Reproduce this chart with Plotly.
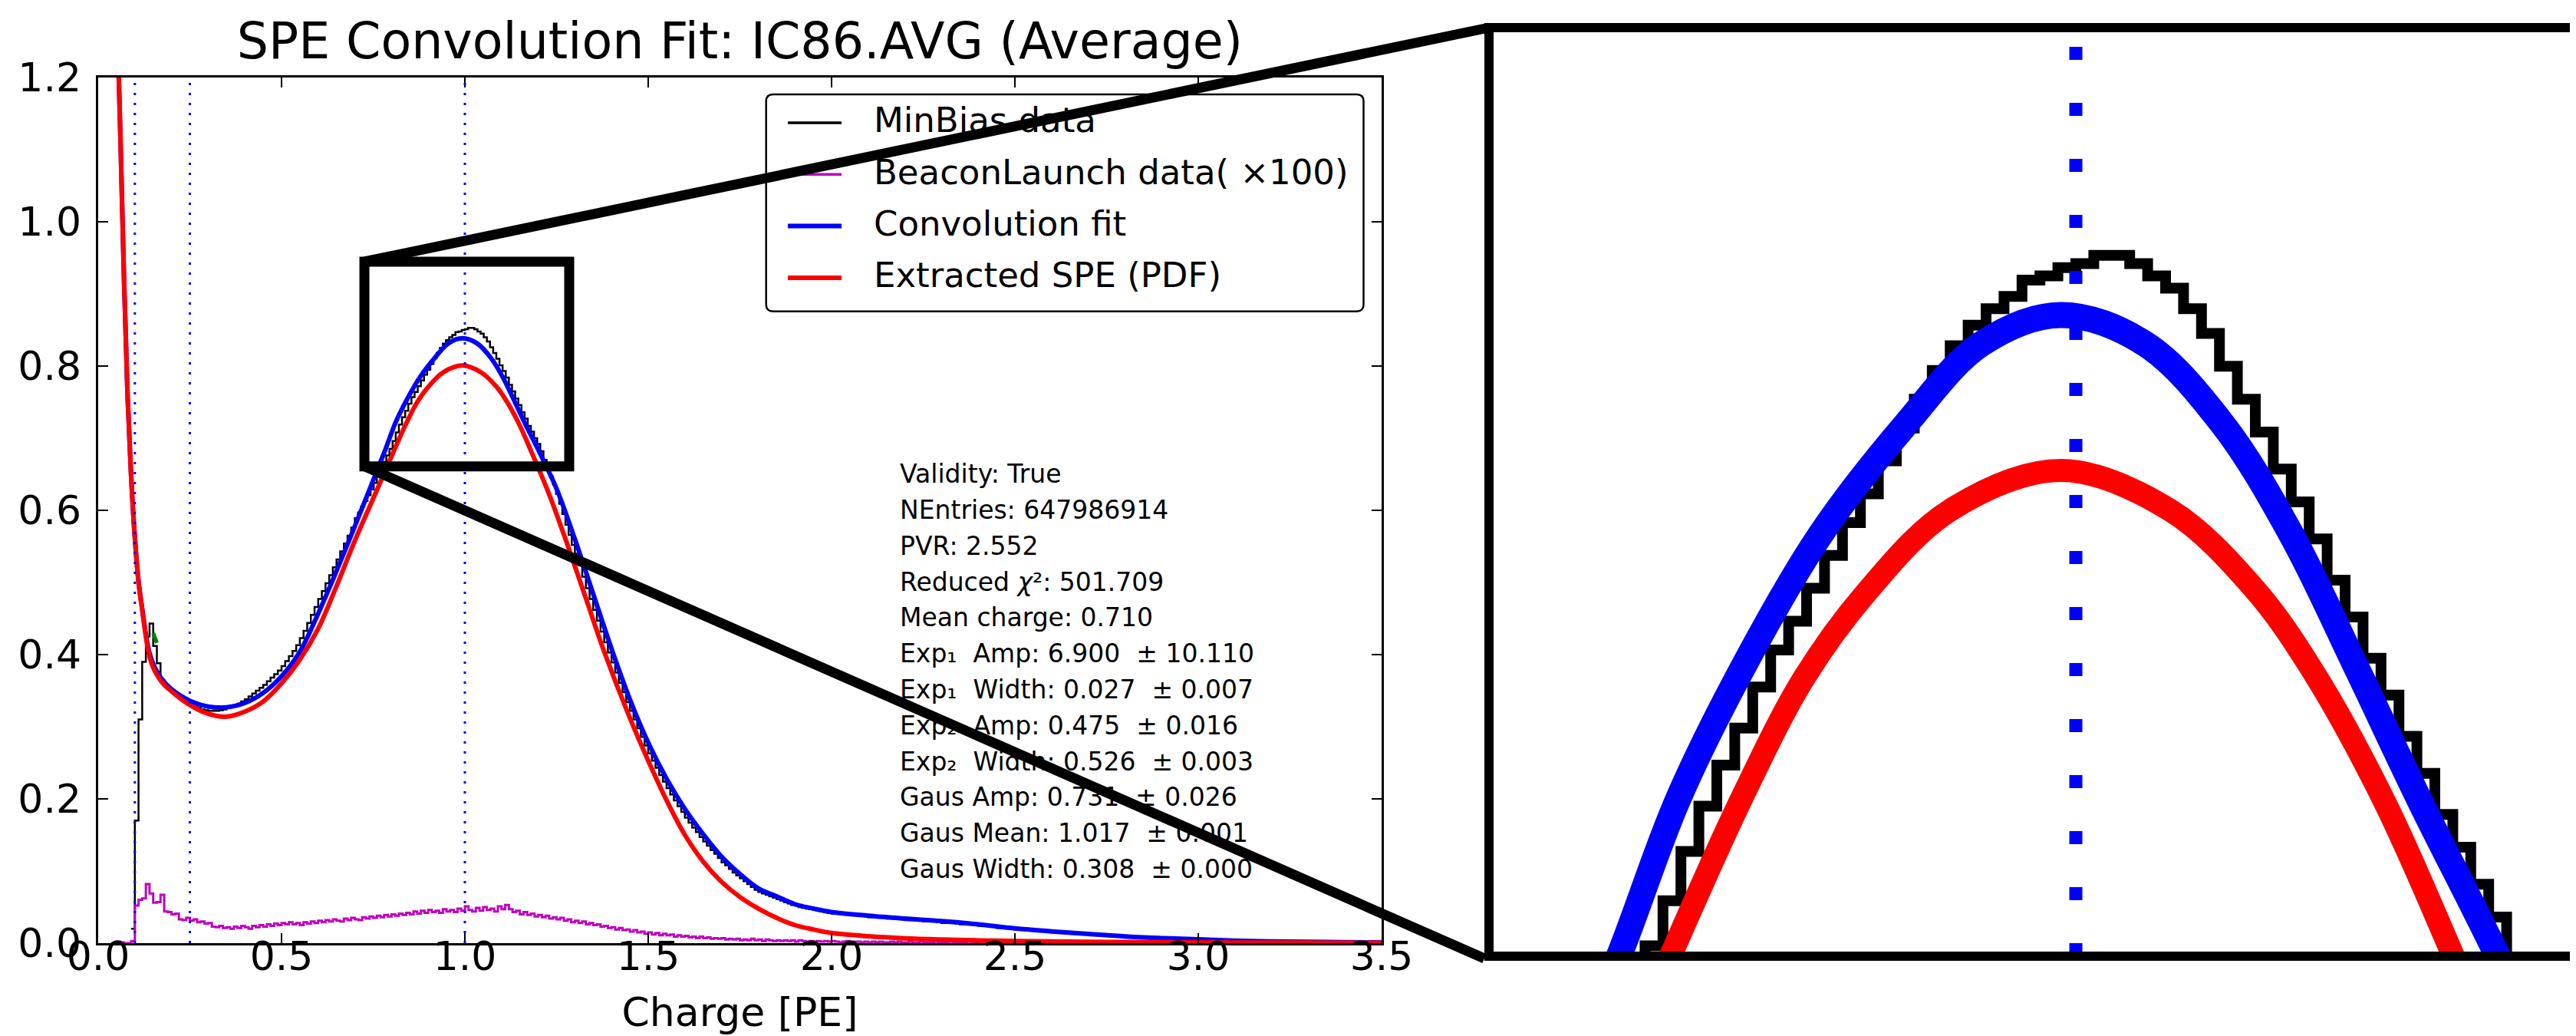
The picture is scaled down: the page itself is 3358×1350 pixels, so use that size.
import numpy as np
import plotly.graph_objects as go

W, H = 3358, 1350

# ---------------- data ----------------
conv_x = [0.055, 0.06, 0.07, 0.08, 0.09, 0.10, 0.11, 0.12, 0.13, 0.14, 0.15, 0.175,
          0.20, 0.25, 0.30, 0.35, 0.40, 0.45, 0.50, 0.55, 0.60, 0.65, 0.70, 0.74,
          0.783, 0.810, 0.841, 0.878, 0.919, 0.955, 0.993, 1.033, 1.070, 1.103, 1.134, 1.164,
          1.200, 1.25, 1.30, 1.35, 1.40, 1.45, 1.50, 1.55, 1.60, 1.65, 1.70, 1.75,
          1.80, 1.85, 1.90, 1.95, 2.00, 2.1, 2.2, 2.3, 2.4, 2.5, 2.6, 2.7, 2.8, 2.9,
          3.0, 3.1, 3.2, 3.3, 3.4, 3.5]
convolution_fit = [1.22, 1.13, 0.93, 0.76, 0.645, 0.562, 0.502, 0.464, 0.428, 0.402, 0.387, 0.365,
                   0.352, 0.336, 0.328, 0.327, 0.333, 0.347, 0.370, 0.404, 0.457, 0.516, 0.578, 0.629,
                   0.684, 0.7206, 0.7527, 0.785, 0.812, 0.8315, 0.8385, 0.8315, 0.812, 0.785, 0.7527, 0.7206,
                   0.684, 0.630, 0.560, 0.484, 0.408, 0.338, 0.278, 0.228, 0.186, 0.151, 0.120, 0.096,
                   0.076, 0.065, 0.054, 0.048, 0.043, 0.038, 0.034, 0.0305, 0.026, 0.0204, 0.0163, 0.0128,
                   0.0093, 0.007, 0.0052, 0.0035, 0.0025, 0.0018, 0.0013, 0.001]

spe_x = [0.055, 0.06, 0.07, 0.08, 0.09, 0.10, 0.11, 0.12, 0.13, 0.14, 0.15, 0.175,
         0.20, 0.25, 0.30, 0.35, 0.40, 0.45, 0.50, 0.55, 0.60, 0.65, 0.70, 0.76,
         0.812, 0.841, 0.870, 0.900, 0.940, 0.993, 1.045, 1.085, 1.113, 1.147,
         1.179, 1.23, 1.28, 1.33, 1.38, 1.45, 1.50, 1.55, 1.60, 1.65, 1.70, 1.75,
         1.80, 1.85, 1.90, 1.95, 2.00, 2.1, 2.2, 2.3, 2.4, 2.5, 2.6, 2.7, 2.8, 2.9,
         3.0, 3.1, 3.2, 3.3, 3.4, 3.5]
extracted_spe = [1.22, 1.13, 0.93, 0.76, 0.645, 0.562, 0.50, 0.462, 0.425, 0.397, 0.382, 0.361,
                 0.349, 0.330, 0.318, 0.314, 0.321, 0.335, 0.360, 0.393, 0.436, 0.495, 0.558, 0.628,
                 0.689, 0.7215, 0.750, 0.771, 0.791, 0.8007, 0.791, 0.772, 0.752, 0.7205,
                 0.684, 0.622, 0.552, 0.478, 0.404, 0.312, 0.253, 0.198, 0.150, 0.113, 0.085, 0.064,
                 0.048, 0.035, 0.025, 0.019, 0.014, 0.0095, 0.0067, 0.005, 0.0038, 0.003, 0.0024, 0.0019,
                 0.0015, 0.0012, 0.001, 0.0009, 0.0008, 0.0007, 0.0006, 0.0005]

# MinBias histogram, given as (first bin edge, bin width, bin contents) segments
minbias_low = [  # bins of 0.01 from 0.09 to 0.70
    0.02,
    0.17, 0.31, 0.39, 0.425, 0.443, 0.412, 0.388, 0.365, 0.357, 0.352,
    0.347, 0.343, 0.339, 0.335, 0.332, 0.330, 0.328, 0.326, 0.324, 0.323,
    0.322, 0.322, 0.322, 0.323, 0.324, 0.326, 0.328, 0.330, 0.332, 0.335,
    0.338, 0.342, 0.346, 0.350, 0.354, 0.358, 0.363, 0.368, 0.373, 0.378,
    0.384, 0.391, 0.398, 0.405, 0.413, 0.423, 0.433, 0.444, 0.455, 0.466,
    0.477, 0.488, 0.499, 0.510, 0.521, 0.532, 0.543, 0.554, 0.565, 0.576,
]
minbias_peak = [  # 70 bins between 0.70 and 1.30
    0.589, 0.597, 0.605, 0.613, 0.621, 0.629, 0.638, 0.648, 0.657, 0.667,
    0.676, 0.685, 0.696, 0.708, 0.719, 0.729, 0.738, 0.748, 0.757, 0.764,
    0.772, 0.780, 0.788, 0.795, 0.803, 0.811, 0.818, 0.825, 0.831, 0.836,
    0.840, 0.843, 0.847, 0.848, 0.850, 0.851, 0.853, 0.853, 0.851, 0.848,
    0.845, 0.840, 0.834, 0.826, 0.818, 0.810, 0.801, 0.793, 0.784, 0.774,
    0.765, 0.755, 0.746, 0.736, 0.727, 0.717, 0.709, 0.700, 0.692, 0.682,
    0.670, 0.659, 0.647, 0.636, 0.623, 0.609, 0.595, 0.580, 0.566, 0.552,
]
minbias_high = [  # bins of 0.01 from 1.30 to 2.00
    0.540, 0.524, 0.508, 0.492, 0.477, 0.462, 0.447, 0.432, 0.417, 0.403,
    0.389, 0.375, 0.361, 0.348, 0.334, 0.322, 0.310, 0.298, 0.286, 0.274,
    0.263, 0.253, 0.243, 0.233, 0.224, 0.215, 0.206, 0.198, 0.190, 0.182,
    0.174, 0.167, 0.160, 0.154, 0.147, 0.141, 0.135, 0.129, 0.124, 0.118,
    0.112, 0.108, 0.103, 0.098, 0.094, 0.090, 0.086, 0.082, 0.078, 0.074,
    0.071, 0.069, 0.067, 0.065, 0.063, 0.061, 0.059, 0.057, 0.055, 0.053,
    0.052, 0.050, 0.049, 0.048, 0.047, 0.046, 0.045, 0.044, 0.043, 0.042,
]
minbias_tail = [  # bins of 0.05 from 2.00 to 3.50
    0.041, 0.039, 0.036, 0.034, 0.032, 0.030, 0.028, 0.026, 0.024, 0.021,
    0.019, 0.017, 0.015, 0.013, 0.012, 0.010, 0.009, 0.007, 0.006, 0.005,
    0.004, 0.0035, 0.003, 0.0025, 0.002, 0.0018, 0.0015, 0.0013, 0.0011, 0.001,
]
minbias_segments = [(0.09, 0.01, minbias_low), (0.70, 0.6 / 70, minbias_peak),
                    (1.30, 0.01, minbias_high), (2.00, 0.05, minbias_tail)]

# BeaconLaunch histogram (x100): 0.01-wide bins starting at 0.04
beacon_start, beacon_bin = 0.04, 0.01
beacon_x100 = [
    0.0, 0.002, 0.001, 0.0, 0.0, 0.003,
    0.052, 0.060, 0.062, 0.082, 0.069, 0.056, 0.057, 0.067, 0.044, 0.043,
    0.040, 0.041, 0.033, 0.032, 0.035, 0.031, 0.033, 0.029, 0.030, 0.027,
    0.028, 0.023, 0.022, 0.024, 0.021, 0.022, 0.020, 0.023, 0.021, 0.024,
    0.022, 0.020, 0.024, 0.022, 0.025, 0.023, 0.026, 0.024, 0.027, 0.025,
    0.028, 0.026, 0.029, 0.026, 0.028, 0.025, 0.029, 0.027, 0.030, 0.028,
    0.031, 0.029, 0.032, 0.030, 0.033, 0.031, 0.030, 0.034, 0.032, 0.035,
    0.033, 0.032, 0.036, 0.034, 0.037, 0.035, 0.038, 0.036, 0.039, 0.037,
    0.040, 0.038, 0.041, 0.039, 0.042, 0.040, 0.044, 0.041, 0.045, 0.042,
    0.046, 0.043, 0.045, 0.042, 0.047, 0.044, 0.046, 0.043, 0.048, 0.045,
    0.051, 0.046, 0.044, 0.049, 0.045, 0.050, 0.046, 0.048, 0.044, 0.051,
    0.047, 0.053, 0.047, 0.043, 0.045, 0.040, 0.043, 0.039, 0.041, 0.037,
    0.039, 0.036, 0.038, 0.034, 0.036, 0.033, 0.035, 0.031, 0.033, 0.029,
    0.031, 0.028, 0.030, 0.026, 0.028, 0.025, 0.026, 0.023, 0.024, 0.021,
    0.022, 0.019, 0.021, 0.018, 0.019, 0.016, 0.018, 0.015, 0.016, 0.013,
    0.015, 0.012, 0.014, 0.011, 0.013, 0.011, 0.012, 0.009, 0.011, 0.009,
    0.010, 0.008, 0.009, 0.007, 0.009, 0.007, 0.008, 0.006, 0.007, 0.006,
    0.007, 0.005, 0.006, 0.005, 0.006, 0.004, 0.005, 0.004, 0.006, 0.004,
    0.005, 0.003, 0.005, 0.004, 0.003, 0.004, 0.003, 0.004, 0.003, 0.004,
    0.002, 0.004, 0.003, 0.002, 0.003, 0.002, 0.003, 0.002, 0.003, 0.002,
    0.003, 0.002, 0.001, 0.002, 0.003, 0.001, 0.002, 0.002, 0.001, 0.002,
    0.001, 0.002, 0.001, 0.002, 0.001, 0.001, 0.002, 0.001, 0.002, 0.001,
    0.001, 0.002, 0.001, 0.001, 0.002, 0.001, 0.001, 0.001, 0.002, 0.001,
    0.001, 0.001, 0.002, 0.001, 0.001, 0.001, 0.001, 0.002, 0.001, 0.001,
    0.001, 0.001, 0.001, 0.001, 0.002, 0.001, 0.001, 0.001, 0.001, 0.001,
]

green_x = [0.150, 0.160]
green_y = [0.430, 0.416]

marker_lines_x = [0.1, 0.25, 1.0]
x_ticks = [0.0, 0.5, 1.0, 1.5, 2.0, 2.5, 3.0, 3.5]
y_ticks = [0.0, 0.2, 0.4, 0.6, 0.8, 1.0, 1.2]

stat_labels = ["Validity", "NEntries", "PVR", "Reduced <i>χ</i>²", "Mean charge",
               "Exp₁  Amp", "Exp₁  Width", "Exp₂  Amp", "Exp₂  Width",
               "Gaus Amp", "Gaus Mean", "Gaus Width"]
stat_values = ["True", "647986914", "2.552", "501.709", "0.710",
               "6.900  ± 10.110", "0.027  ± 0.007", "0.475  ± 0.016", "0.526  ± 0.003",
               "0.731  ± 0.026", "1.017  ± 0.001", "0.308  ± 0.000"]

# ---------------- layout geometry (pixels) ----------------
def px(x):
    return x / W


def py(y):
    return 1 - y / H


X_RANGE = [0.0, 3.5]
Y_RANGE = [0.0, 1.2]
X_DOM = [px(120), px(1793)]
Y_DOM = [py(1221), py(93)]

INSET_X_RANGE = [1.0 - 765 / 2730.0, 1.0 + (W - 2698) / 2730.0]
INSET_Y_RANGE = [0.6825, 0.9084]
IX_DOM = [px(1933), 1.0]
IY_DOM = [py(1238), py(28)]

ZOOM_X = (0.726, 1.2845)
ZOOM_Y = (0.661, 0.9447)

FONT = "DejaVu Sans"


def data_to_paper(v, rng, dom):
    return dom[0] + (v - rng[0]) / (rng[1] - rng[0]) * (dom[1] - dom[0])


def step_xy(segments):
    xs, ys = [], []
    for start, width, vals in segments:
        xs += [round(start + width * i, 5) for i in range(len(vals))]
        ys += list(vals)
    last_start, last_width, last_vals = segments[-1]
    xs.append(round(last_start + last_width * len(last_vals), 5))
    ys.append(ys[-1])
    return xs, ys


minbias_x, minbias_y = step_xy(minbias_segments)
beacon_xs, beacon_ys = step_xy([(beacon_start, beacon_bin, beacon_x100)])

fig = go.Figure()

main_traces = [
    go.Scatter(x=minbias_x, y=minbias_y, mode="lines", line_shape="hv",
               line=dict(color="black", width=2.5), name="MinBias data"),
    go.Scatter(x=beacon_xs, y=beacon_ys, mode="lines", line_shape="hv",
               line=dict(color="#BF00BF", width=3), name="BeaconLaunch data( ×100)"),
    go.Scatter(x=conv_x, y=convolution_fit, mode="lines", line_shape="spline",
               line=dict(color="#0000FF", width=6, smoothing=1.0), name="Convolution fit"),
    go.Scatter(x=spe_x, y=extracted_spe, mode="lines", line_shape="spline",
               line=dict(color="#FF0000", width=6, smoothing=1.0), name="Extracted SPE (PDF)"),
]
for tr in main_traces:
    tr.showlegend = False
    fig.add_trace(tr)
fig.add_trace(go.Scatter(x=green_x, y=green_y, mode="lines", line=dict(color="#008000", width=5),
                         showlegend=False, name="fit start"))

# inset: same series, zoomed
fig.add_trace(go.Scatter(x=minbias_x, y=minbias_y, mode="lines", line_shape="hv",
                         line=dict(color="black", width=14), showlegend=False,
                         xaxis="x2", yaxis="y2", name="MinBias data"))
fig.add_trace(go.Scatter(x=conv_x, y=convolution_fit, mode="lines", line_shape="spline",
                         line=dict(color="#0000FF", width=34, smoothing=1.0), showlegend=False,
                         xaxis="x2", yaxis="y2", name="Convolution fit"))
fig.add_trace(go.Scatter(x=spe_x, y=extracted_spe, mode="lines", line_shape="spline",
                         line=dict(color="#FF0000", width=30, smoothing=1.0), showlegend=False,
                         xaxis="x2", yaxis="y2", name="Extracted SPE (PDF)"))

shapes = []
annotations = []

for v in marker_lines_x:
    shapes.append(dict(type="line", xref="x", yref="y domain", x0=v, x1=v, y0=0, y1=1,
                       line=dict(color="#0000FF", width=3, dash="3px,10px"), layer="above"))
shapes.append(dict(type="line", xref="x2", yref="y2 domain", x0=1.0, x1=1.0, y0=0, y1=1,
                   line=dict(color="#0000FF", width=17, dash="17px,56px"), layer="above"))

# ---- legend (drawn from the main traces) ----
LEG = dict(left=990.7, right=1769.5, top=115, bottom=397.7, r=9)
lx0, lx1, ly0, ly1 = px(LEG["left"]), px(LEG["right"]), py(LEG["bottom"]), py(LEG["top"])
rx, ry = LEG["r"] / W, LEG["r"] / H
legend_path = (f"M {lx0 + rx},{ly1} L {lx1 - rx},{ly1} Q {lx1},{ly1} {lx1},{ly1 - ry} "
               f"L {lx1},{ly0 + ry} Q {lx1},{ly0} {lx1 - rx},{ly0} L {lx0 + rx},{ly0} "
               f"Q {lx0},{ly0} {lx0},{ly0 + ry} L {lx0},{ly1 - ry} Q {lx0},{ly1} {lx0 + rx},{ly1} Z")
shapes.append(dict(type="path", xref="paper", yref="paper", path=legend_path,
                   line=dict(color="black", width=2.5), fillcolor="white", layer="above"))
LEG_ROW0, LEG_ROW_STEP = 152.0, 67.3
for i, tr in enumerate(main_traces):
    yc = py(LEG_ROW0 + i * LEG_ROW_STEP)
    shapes.append(dict(type="line", xref="paper", yref="paper", x0=px(1019), x1=px(1089),
                       y0=yc, y1=yc, line=dict(color=tr.line.color, width=max(tr.line.width, 3.5)),
                       layer="above"))
    annotations.append(dict(xref="paper", yref="paper", x=px(1129), y=py(LEG_ROW0 + i * LEG_ROW_STEP - 3),
                            xanchor="left", yanchor="middle", showarrow=False, text=tr.name,
                            font=dict(family=FONT, size=45, color="black")))

# zoom window in main axes
shapes.append(dict(type="rect", xref="x", yref="y", x0=ZOOM_X[0], x1=ZOOM_X[1],
                   y0=ZOOM_Y[0], y1=ZOOM_Y[1], line=dict(color="black", width=13),
                   fillcolor="rgba(0,0,0,0)", layer="above"))
# inset frame (its right side runs off the page)
shapes.append(dict(type="rect", xref="paper", yref="paper", x0=IX_DOM[0], x1=1.02,
                   y0=IY_DOM[0], y1=IY_DOM[1], line=dict(color="black", width=12),
                   fillcolor="rgba(0,0,0,0)", layer="above"))
# connectors from the zoom window to the inset
zx0 = data_to_paper(ZOOM_X[0], X_RANGE, X_DOM)
zy0 = data_to_paper(ZOOM_Y[0], Y_RANGE, Y_DOM)
zy1 = data_to_paper(ZOOM_Y[1], Y_RANGE, Y_DOM)
shapes.append(dict(type="line", xref="paper", yref="paper", x0=zx0, y0=zy1,
                   x1=IX_DOM[0], y1=IY_DOM[1], line=dict(color="black", width=13), layer="above"))
shapes.append(dict(type="line", xref="paper", yref="paper", x0=zx0, y0=zy0,
                   x1=IX_DOM[0] - px(6), y1=IY_DOM[0] - 3 / H, line=dict(color="black", width=13),
                   layer="above"))

# fit statistics
STAT_X = px(1163)
STAT_BASE = 629.7
STAT_STEP = 46.8
for i, (lab, val) in enumerate(zip(stat_labels, stat_values)):
    annotations.append(dict(xref="paper", yref="paper", x=STAT_X, y=py(STAT_BASE + i * STAT_STEP - 20),
                            xanchor="left", yanchor="middle", showarrow=False,
                            text=f"{lab}: {val}".replace("  ", "\u00a0 "),
                            font=dict(family=FONT, size=33, color="black")))

axis_common = dict(showgrid=False, zeroline=False, showline=True, linecolor="black", linewidth=3,
                   mirror="ticks", ticks="inside", ticklen=13, tickwidth=1.5, tickcolor="black",
                   tickfont=dict(family=FONT, size=52, color="black"), tickformat=".1f",
                   automargin=False)

fig.update_layout(
    width=W, height=H,
    margin=dict(l=0, r=0, t=0, b=0, pad=0, autoexpand=False),
    paper_bgcolor="white", plot_bgcolor="white",
    font=dict(family=FONT, color="black"),
    title=dict(text="SPE Convolution Fit: IC86.AVG (Average)", x=px(956.5), y=py(45),
               xref="paper", yref="paper", xanchor="center", yanchor="middle",
               font=dict(family=FONT, size=65, color="black")),
    xaxis=dict(domain=X_DOM, range=X_RANGE, tickvals=x_ticks, anchor="y", ticklabelstandoff=-30,
               title=dict(text="Charge [PE]", font=dict(family=FONT, size=52, color="black"), standoff=26),
               **axis_common),
    # frame and ticks of the y axis
    yaxis=dict(domain=Y_DOM, range=Y_RANGE, tickvals=y_ticks, anchor="x", showticklabels=False,
               **axis_common),
    # tick labels of the y axis, set a little closer to the frame as in the reference
    yaxis3=dict(overlaying="y", anchor="free", position=px(98), side="left", range=Y_RANGE,
                tickvals=y_ticks, tickformat=".1f", ticks="", showline=False, showgrid=False,
                zeroline=False, automargin=False,
                tickfont=dict(family=FONT, size=52, color="black")),
    xaxis2=dict(domain=IX_DOM, range=INSET_X_RANGE, anchor="y2", visible=False),
    yaxis2=dict(domain=IY_DOM, range=INSET_Y_RANGE, anchor="x2", visible=False),
    shapes=shapes,
    annotations=annotations,
    showlegend=False,
)
# an invisible trace so that the label axis is drawn
fig.add_trace(go.Scatter(x=[None], y=[None], xaxis="x", yaxis="y3", showlegend=False,
                         hoverinfo="skip", name="y labels"))

fig.write_html("out.html", config={"displayModeBar": False})
